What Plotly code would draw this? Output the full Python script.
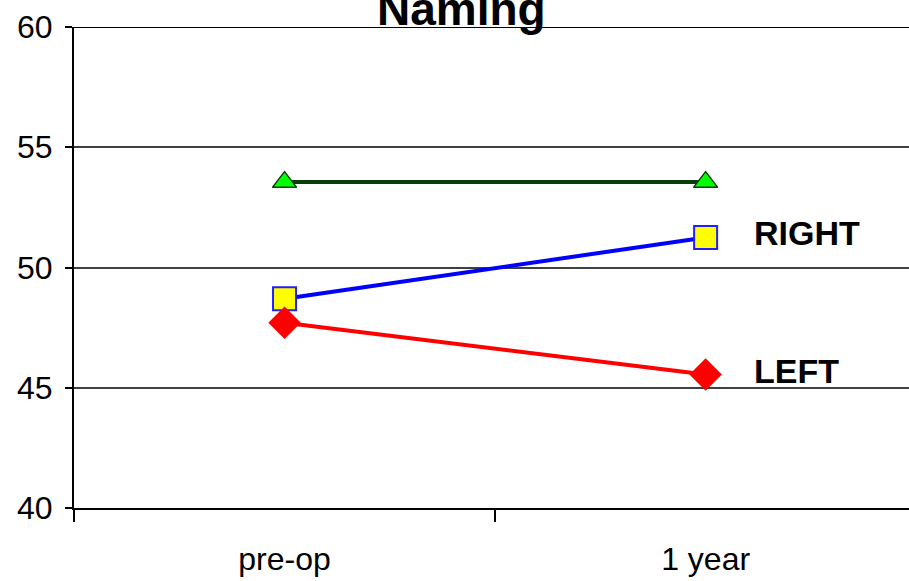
import plotly.graph_objects as go

# Naming scores before surgery and at one year
timepoints = ["pre-op", "1 year"]
normal_scores = [53.55, 53.55]
right_scores = [48.7, 51.25]
left_scores = [47.7, 45.55]

FONT = "Arial, Liberation Sans, sans-serif"

fig = go.Figure()

fig.add_trace(go.Scatter(
    x=timepoints, y=normal_scores, name="Normal", mode="lines+markers",
    line=dict(color="#0b3d0b", width=4),
    marker=dict(symbol="triangle-up", size=21, color="#00ff00",
                line=dict(color="#0b3d0b", width=1.5)),
))
fig.add_trace(go.Scatter(
    x=timepoints, y=right_scores, name="RIGHT", mode="lines+markers",
    line=dict(color="#0000ff", width=4),
    marker=dict(symbol="square", size=23, color="#ffff00",
                line=dict(color="#2020ff", width=2)),
))
fig.add_trace(go.Scatter(
    x=timepoints, y=left_scores, name="LEFT", mode="lines+markers",
    line=dict(color="#ff0000", width=4),
    marker=dict(symbol="diamond", size=25, color="#ff0000",
                line=dict(color="#ff0000", width=0)),
))

# Series labels at the right-hand end of each line
for label, vals in (("RIGHT", right_scores), ("LEFT", left_scores)):
    fig.add_annotation(
        x=timepoints[-1], y=vals[-1], text=label, showarrow=False,
        xanchor="left", yanchor="middle", xshift=46, yshift=4,
        font=dict(family=FONT, size=34, color="black", weight="bold"),
    )

# Chart title
fig.add_annotation(
    x=(461 - 74) / 835, xref="paper", y=1, yref="paper", text="Naming",
    showarrow=False, xanchor="center", yanchor="bottom", yshift=-10,
    font=dict(family=FONT, size=46, color="black", weight="bold"),
)

# Top border of the plot area
fig.add_shape(type="line", xref="paper", x0=0, x1=1, yref="y", y0=60, y1=60,
              line=dict(color="black", width=2))

fig.update_layout(
    width=909, height=581,
    margin=dict(l=74, r=0, t=27, b=73),
    paper_bgcolor="white", plot_bgcolor="white",
    showlegend=False,
    font=dict(family=FONT, size=32, color="black"),
)
fig.update_xaxes(
    type="category", range=[-0.5, 1.483],
    showline=True, linecolor="black", linewidth=2,
    ticks="outside", tickson="boundaries", ticklen=12, tickwidth=1.5,
    tickcolor="black", showgrid=False, ticklabelstandoff=22,
    tickfont=dict(family=FONT, size=32, color="black"),
)
fig.update_yaxes(
    range=[40, 60], tickvals=[40, 45, 50, 55, 60],
    showline=True, linecolor="black", linewidth=2,
    ticks="outside", ticklen=7, tickwidth=1.5, tickcolor="black",
    showgrid=True, gridcolor="#404040", gridwidth=1.5,
    zeroline=False, ticklabelstandoff=6,
    tickfont=dict(family=FONT, size=32, color="black"),
)

fig.write_html("out.html")
